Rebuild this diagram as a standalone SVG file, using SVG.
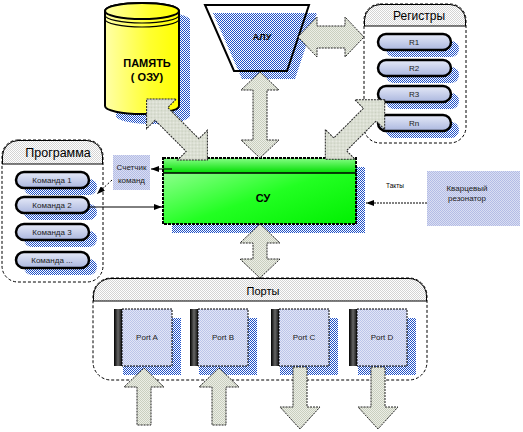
<svg xmlns="http://www.w3.org/2000/svg" width="523" height="432" viewBox="0 0 523 432">
<defs>
<pattern id="pBlue" width="2" height="2" patternUnits="userSpaceOnUse"><rect width="1" height="1" fill="#1f50c8"/><rect x="1" y="1" width="1" height="1" fill="#1f50c8"/></pattern>
<pattern id="pArrow" width="2" height="2" patternUnits="userSpaceOnUse"><rect width="2" height="2" fill="#eceee6"/><rect width="1" height="1" fill="#c9cfbf"/><rect x="1" y="1" width="1" height="1" fill="#c9cfbf"/></pattern>
<pattern id="pHead" width="2" height="2" patternUnits="userSpaceOnUse"><rect width="2" height="2" fill="#ffffff"/><rect width="1" height="1" fill="#d4d4d4"/><rect x="1" y="1" width="1" height="1" fill="#d4d4d4"/></pattern>
<pattern id="pBox" width="2" height="2" patternUnits="userSpaceOnUse"><rect width="2" height="2" fill="#dadef2"/><rect width="1" height="1" fill="#b3bce6"/><rect x="1" y="1" width="1" height="1" fill="#b3bce6"/></pattern>
<pattern id="pPage" width="2" height="2" patternUnits="userSpaceOnUse"><rect width="2" height="2" fill="#e2e5f6"/><rect width="1" height="1" fill="#bcc5ea"/><rect x="1" y="1" width="1" height="1" fill="#bcc5ea"/></pattern>
<linearGradient id="gYellow" x1="0" y1="0" x2="1" y2="0"><stop offset="0" stop-color="#ffffa8"/><stop offset="0.6" stop-color="#ffff30"/><stop offset="1" stop-color="#ffff00"/></linearGradient>
<linearGradient id="gGreen" x1="0" y1="0" x2="1" y2="1"><stop offset="0" stop-color="#a8ffa8"/><stop offset="0.55" stop-color="#22ff22"/><stop offset="1" stop-color="#00f000"/></linearGradient>
<linearGradient id="gBand" x1="0" y1="0" x2="0" y2="1"><stop offset="0" stop-color="#88ff88"/><stop offset="1" stop-color="#00dd00"/></linearGradient>
<linearGradient id="gPill" x1="0" y1="0" x2="0" y2="1"><stop offset="0" stop-color="#e6eaf8"/><stop offset="1" stop-color="#aab6de"/></linearGradient>
<linearGradient id="gSpine" x1="0" y1="0" x2="1" y2="0"><stop offset="0" stop-color="#000"/><stop offset="0.5" stop-color="#666"/><stop offset="1" stop-color="#111"/></linearGradient>
<marker id="ah" markerUnits="userSpaceOnUse" markerWidth="8" markerHeight="6" refX="8" refY="3" orient="auto"><path d="M0,0 L8,3 L0,6 Z" fill="#000"/></marker>
</defs>
<style>
text{font-family:"Liberation Sans",Arial,sans-serif;fill:#000;text-anchor:middle}
.sh{fill:url(#pBlue)}
.pill{fill:url(#gPill);stroke:#000;stroke-width:2.5}
.pt{font-size:8px;fill:#222}
.cont{fill:#fff;stroke:#000;stroke-width:1;stroke-dasharray:3,2}
.head{fill:url(#pHead)}
.big{fill:url(#pArrow);stroke:#222;stroke-width:1;stroke-dasharray:2,1}
.page{fill:url(#pPage);stroke:#000;stroke-width:1;stroke-dasharray:2,1}
.spine{fill:url(#gSpine)}
.conn{stroke:#000;stroke-width:1;fill:none}
</style>

<g id="memory">
<path class="sh" d="M116,20 L116,116 A37,8 0 0 0 190,116 L190,20 A37,8 0 0 0 116,20 Z"/>
<path d="M105,11 L105,106 A37,8 0 0 0 179,106 L179,11 A37,8 0 0 0 105,11 Z" fill="url(#gYellow)" stroke="#000" stroke-width="2"/>
<ellipse cx="142" cy="11" rx="37" ry="8" fill="url(#gYellow)" stroke="#000" stroke-width="2"/>
<path d="M105,15 A37,8 0 0 0 179,15 M105,19 A37,8 0 0 0 179,19" fill="none" stroke="#000" stroke-width="1.2"/>
<text x="147" y="67" font-size="11" font-weight="bold">ПАМЯТЬ</text>
<text x="147" y="81" font-size="11" font-weight="bold">( ОЗУ)</text>
</g>

<g id="alu">
<polygon class="sh" points="213,13 317,13 295,79 242,79"/>
<polygon points="205,5 309,5 287,71 234,71" fill="none" stroke="#000" stroke-width="2"/>
<text x="262" y="40" font-size="9" font-weight="bold">АЛУ</text>
</g>

<g id="registers">
<rect class="cont" x="364" y="4" width="102" height="139" rx="16"/>
<path class="head" d="M364.5,26 L364.5,20 A16,16 0 0 1 380,4.5 L450,4.5 A16,16 0 0 1 465.5,20 L465.5,26 Z"/>
<path d="M364.5,26 L364.5,20 A16,16 0 0 1 380,4.5 L450,4.5 A16,16 0 0 1 465.5,20 L465.5,26 M364,26 L466,26" fill="none" stroke="#000" stroke-width="1"/>
<text x="419" y="20" font-size="12">Регистры</text>
<rect class="sh" x="386" y="41" width="73" height="16" rx="8"/>
<rect class="sh" x="386" y="67" width="73" height="16" rx="8"/>
<rect class="sh" x="386" y="93" width="73" height="16" rx="8"/>
<rect class="sh" x="386" y="122" width="73" height="16" rx="8"/>
<rect class="pill" x="378" y="34" width="73" height="16" rx="8"/>
<rect class="pill" x="378" y="60" width="73" height="16" rx="8"/>
<rect class="pill" x="378" y="86" width="73" height="16" rx="8"/>
<rect class="pill" x="378" y="115" width="73" height="16" rx="8"/>
<text class="pt" x="414" y="45">R1</text>
<text class="pt" x="414" y="71">R2</text>
<text class="pt" x="414" y="97">R3</text>
<text class="pt" x="414" y="126">Rn</text>
</g>

<g id="program">
<rect class="cont" x="2" y="140" width="101" height="142" rx="16"/>
<path class="head" d="M2.5,164 L2.5,156 A16,16 0 0 1 18,140.5 L87,140.5 A16,16 0 0 1 102.5,156 L102.5,164 Z"/>
<path d="M2.5,164 L2.5,156 A16,16 0 0 1 18,140.5 L87,140.5 A16,16 0 0 1 102.5,156 L102.5,164 M2,164 L103,164" fill="none" stroke="#000" stroke-width="1"/>
<text x="58" y="156.5" font-size="12.5">Программа</text>
<rect class="sh" x="24" y="179" width="73" height="16" rx="8"/>
<rect class="sh" x="24" y="204" width="73" height="16" rx="8"/>
<rect class="sh" x="24" y="231" width="73" height="16" rx="8"/>
<rect class="sh" x="24" y="259" width="73" height="16" rx="8"/>
<rect class="pill" x="16" y="172" width="73" height="16" rx="8"/>
<rect class="pill" x="16" y="197" width="73" height="16" rx="8"/>
<rect class="pill" x="16" y="224" width="73" height="16" rx="8"/>
<rect class="pill" x="16" y="252" width="73" height="16" rx="8"/>
<text class="pt" x="52" y="183">Команда 1</text>
<text class="pt" x="52" y="208">Команда 2</text>
<text class="pt" x="52" y="235">Команда 3</text>
<text class="pt" x="52" y="263">Команда ...</text>
</g>

<g id="counter">
<rect x="113" y="155" width="37" height="35" fill="url(#pBox)"/>
<text class="pt" x="131.5" y="170">Счетчик</text>
<text class="pt" x="131.5" y="183">команд</text>
</g>

<g id="cu">
<rect class="sh" x="172" y="167" width="193" height="66"/>
<rect x="163" y="158" width="193" height="66" fill="url(#gGreen)"/>
<rect x="163" y="158" width="193" height="15" fill="url(#gBand)"/>
<line x1="163" y1="173" x2="356" y2="173" stroke="#000" stroke-width="1.5"/>
<rect x="163" y="158" width="193" height="66" fill="none" stroke="#000" stroke-width="2" stroke-dasharray="3,1"/>
<text x="263" y="202" font-size="11" font-weight="bold">СУ</text>
</g>

<g id="quartz">
<rect x="427" y="171" width="93" height="55" fill="url(#pBox)"/>
<text class="pt" x="467" y="191">Кварцевый</text>
<text class="pt" x="467" y="201">резонатор</text>
</g>

<g id="ports">
<rect class="cont" x="93" y="278" width="334" height="102" rx="18"/>
<path class="head" d="M93.5,301 L93.5,296 A18,18 0 0 1 111,278.5 L409,278.5 A18,18 0 0 1 426.5,296 L426.5,301 Z"/>
<path d="M93.5,301 L93.5,296 A18,18 0 0 1 111,278.5 L409,278.5 A18,18 0 0 1 426.5,296 L426.5,301 M93,301 L427,301" fill="none" stroke="#000" stroke-width="1"/>
<text x="263" y="295" font-size="11">Порты</text>
<g id="portA">
<rect class="sh" x="123" y="318" width="58" height="57"/>
<rect class="spine" x="114" y="309" width="8" height="57"/>
<rect class="page" x="122" y="309" width="50" height="57"/>
<text class="pt" x="147" y="340">Port A</text>
</g>
<g id="portB">
<rect class="sh" x="199" y="318" width="58" height="57"/>
<rect class="spine" x="190" y="309" width="8" height="57"/>
<rect class="page" x="198" y="309" width="50" height="57"/>
<text class="pt" x="223" y="340">Port B</text>
</g>
<g id="portC">
<rect class="sh" x="280" y="318" width="58" height="57"/>
<rect class="spine" x="271" y="309" width="8" height="57"/>
<rect class="page" x="279" y="309" width="50" height="57"/>
<text class="pt" x="304" y="340">Port C</text>
</g>
<g id="portD">
<rect class="sh" x="358" y="318" width="58" height="57"/>
<rect class="spine" x="349" y="309" width="8" height="57"/>
<rect class="page" x="357" y="309" width="50" height="57"/>
<text class="pt" x="382" y="340">Port D</text>
</g>
</g>

<g id="connectors">
<polygon class="big" transform="translate(177,129.5) rotate(45)" points="-43,0 -22,-21 -22,-9 22,-9 22,-21 43,0 22,21 22,9 -22,9 -22,21"/>
<polygon class="big" transform="translate(355,129.5) rotate(135)" points="-42,0 -21,-21 -21,-9 21,-9 21,-21 42,0 21,21 21,9 -21,9 -21,21"/>
<polygon class="big" points="260,72 279,90 267,90 267,140 279,140 260,158 241,140 253,140 253,90 241,90"/>
<polygon class="big" points="298,37 317,17 317,26 345,26 345,17 364,37 345,57 345,48 317,48 317,57"/>
<polygon class="big" points="260,224 280,243 267,243 267,259 280,259 260,278 240,259 253,259 253,243 240,243"/>
<polygon class="big" points="144,368 164,387 151,387 151,425 137,425 137,387 124,387"/>
<polygon class="big" points="219,368 239,387 226,387 226,425 212,425 212,387 199,387"/>
<polygon class="big" points="293,367 307,367 307,407 320,407 300,429 280,407 293,407"/>
<polygon class="big" points="371,367 385,367 385,407 398,407 378,429 358,407 371,407"/>
<line class="conn" x1="172" y1="169" x2="151" y2="169" marker-end="url(#ah)"/>
<line class="conn" x1="112" y1="180" x2="97" y2="194" stroke-dasharray="2,2" marker-end="url(#ah)"/>
<line class="conn" x1="89" y1="207" x2="162" y2="207" marker-end="url(#ah)"/>
<line class="conn" x1="427" y1="203" x2="366" y2="203" stroke-dasharray="2,1" marker-end="url(#ah)"/>
<text x="395" y="188" font-size="6.5">Такты</text>
</g>
</svg>
